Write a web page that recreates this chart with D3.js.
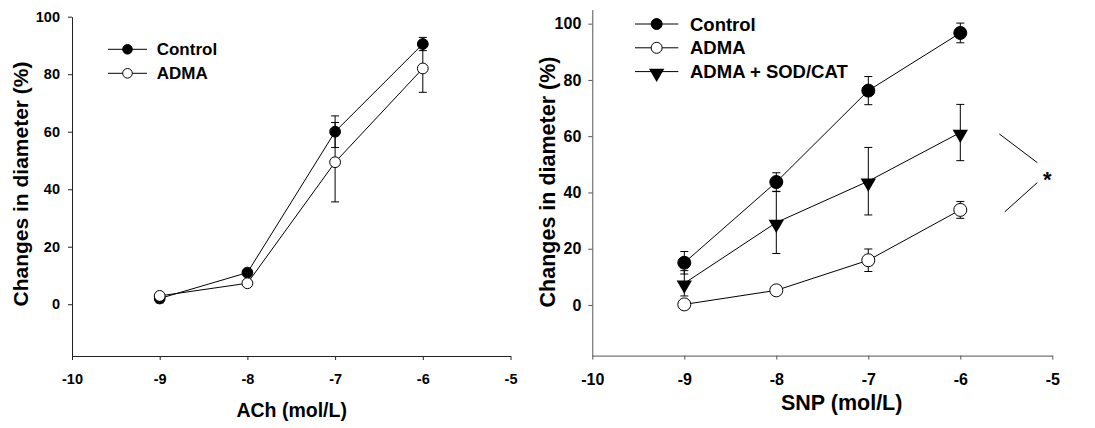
<!DOCTYPE html>
<html><head><meta charset="utf-8">
<script src="https://cdn.jsdelivr.net/npm/d3@7"></script>
<style>body{margin:0;background:#fff;} svg{display:block;font-family:"Liberation Sans",Arial,sans-serif;font-weight:bold;}</style>
</head><body>
<svg id="c" width="1095" height="428"></svg>
<script>
// ---- data ----
const concentrations = [-9, -8, -7, -6];
const xTicks = [-10, -9, -8, -7, -6, -5];
const yTicks = [0, 20, 40, 60, 80, 100];

const achControl = [2.0, 11.0, 60.0, 90.5];
const achControlErr = [1.5, 1.0, 5.5, 2.3];
const achAdma = [2.9, 7.3, 49.4, 82.0];
const achAdmaErr = [1.0, 1.0, 13.8, 8.3];

const snpControl = [15.0, 43.7, 76.2, 96.7];
const snpControlErr = [4.0, 3.3, 5.0, 3.5];
const snpAdma = [0.2, 5.2, 15.9, 33.8];
const snpAdmaErr = [0.5, 1.0, 4.0, 3.0];
const snpSod = [7.7, 29.3, 44.0, 61.3];
const snpSodErr = [4.5, 11.0, 12.0, 10.0];

const seriesNames = ["Control", "ADMA", "ADMA + SOD/CAT"];
const yTitle = "Changes in diameter (%)";
const leftXTitle = "ACh (mol/L)";
const rightXTitle = "SNP (mol/L)";
// significance bracket (data units): two lines and star
const sigLines = [[[-5.576, 60.8], [-5.163, 50.6]], [[-5.517, 33.1], [-5.163, 43.5]]];
const sigStar = [-5.054, 46.2];

const svg = d3.select("#c");
const hyphenFmt = d => String(d);

function panel(cfg) {
  const x = d3.scaleLinear().domain([-10, -5]).range([cfg.x0, cfg.x1]);
  const y = d3.scaleLinear().domain(cfg.yDomain).range([cfg.yBottom, cfg.yTop]);
  const g = svg.append("g");

  const ax = g.append("g").attr("transform", `translate(0,${cfg.yBottom})`)
    .call(d3.axisBottom(x).tickValues(xTicks).tickSize(4).tickPadding(14).tickSizeOuter(0).tickFormat(hyphenFmt));
  const ay = g.append("g").attr("transform", `translate(${cfg.x0},0)`)
    .call(d3.axisLeft(y).tickValues(yTicks).tickSize(4).tickPadding(cfg.yPad).tickSizeOuter(0).tickFormat(hyphenFmt));
  [ax, ay].forEach(a => {
    a.attr("font-size", cfg.tickFont).attr("font-family", '"Liberation Sans",Arial,sans-serif').attr("font-weight", "bold");
    a.selectAll("path,line").attr("stroke", cfg.axisColor).attr("stroke-width", 1);
    a.selectAll("text").attr("fill", "#000");
  });
  ax.selectAll("text").attr("dy", "0.71em");

  g.append("text").attr("transform", `translate(${cfg.yTitleX},${cfg.yTitleY}) rotate(-90)`)
    .attr("text-anchor", "middle").attr("dy", "0.35em").style("font-size", cfg.titleFont + "px").text(yTitle);
  g.append("text").attr("x", cfg.xTitleX).attr("y", cfg.xTitleY).attr("text-anchor", "middle")
    .style("font-size", cfg.xTitleFont + "px").text(cfg.xTitle);

  const line = d3.line().x(d => x(d[0])).y(d => y(d[1]));
  cfg.series.forEach(s => {
    const pts = concentrations.map((c, i) => [c, s.values[i], s.err[i]]);
    g.append("path").datum(pts).attr("d", line).attr("fill", "none").attr("stroke", "#000").attr("stroke-width", 1);
  });
  cfg.series.forEach(s => {
    const pts = concentrations.map((c, i) => [c, s.values[i], s.err[i]]);
    const eb = g.append("g").attr("stroke", "#000").attr("stroke-width", 1);
    pts.forEach(p => {
      const cx = x(p[0]);
      eb.append("line").attr("x1", cx).attr("x2", cx).attr("y1", y(p[1] - p[2])).attr("y2", y(p[1] + p[2]));
      [p[1] - p[2], p[1] + p[2]].forEach(v => eb.append("line").attr("x1", cx - 4).attr("x2", cx + 4).attr("y1", y(v)).attr("y2", y(v)));
    });
  });
  cfg.series.forEach(s => {
    const pts = concentrations.map((c, i) => [c, s.values[i]]);
    pts.forEach(p => drawMarker(g, s.marker, x(p[0]), y(p[1]), cfg.markerR));
  });

  // legend
  cfg.series.forEach((s, i) => {
    const ly = cfg.legY + i * cfg.legStep;
    g.append("line").attr("x1", cfg.legX0).attr("x2", cfg.legX1).attr("y1", ly).attr("y2", ly).attr("stroke", "#000");
    drawMarker(g, s.marker, (cfg.legX0 + cfg.legX1) / 2, ly, s.marker === "tri" ? cfg.markerR : cfg.legR);
    g.append("text").attr("x", cfg.legTextX).attr("y", ly).attr("dy", "0.36em").style("font-size", cfg.legFont + "px").text(s.name);
  });
  return {g, x, y};
}

function drawMarker(g, type, cx, cy, r) {
  if (type === "tri") {
    g.append("path").attr("d", d3.symbol().type(d3.symbolTriangle).size(r * r * 2.4)())
      .attr("transform", `translate(${cx},${cy + r * 0.25}) rotate(180)`).attr("fill", "#000");
  } else {
    g.append("circle").attr("cx", cx).attr("cy", cy).attr("r", r)
      .attr("fill", type === "filled" ? "#000" : "#fff").attr("stroke", "#000").attr("stroke-width", 1);
  }
}

panel({
  x0: 72, x1: 510.5, yDomain: [-18, 100], yBottom: 356, yTop: 16.7, yPad: 8, axisColor: "#222",
  tickFont: 14.5, titleFont: 21, yTitleX: 21, yTitleY: 184, xTitle: leftXTitle, xTitleX: 291.7, xTitleY: 417, xTitleFont: 19.5,
  markerR: 5.4,
  series: [
    {name: seriesNames[0], values: achControl, err: achControlErr, marker: "filled"},
    {name: seriesNames[1], values: achAdma, err: achAdmaErr, marker: "open"}
  ],
  legX0: 108, legX1: 147, legY: 49.3, legStep: 24, legR: 4.8, legTextX: 156.7, legFont: 17
});

const right = panel({
  x0: 592.3, x1: 1052.3, yDomain: [-18, 105], yBottom: 355.6, yTop: 9.6, yPad: 7, axisColor: "#555",
  tickFont: 16, titleFont: 21.5, yTitleX: 547, yTitleY: 182, xTitle: rightXTitle, xTitleX: 841.7, xTitleY: 410, xTitleFont: 21.5,
  markerR: 6.5,
  series: [
    {name: seriesNames[0], values: snpControl, err: snpControlErr, marker: "filled"},
    {name: seriesNames[1], values: snpAdma, err: snpAdmaErr, marker: "open"},
    {name: seriesNames[2], values: snpSod, err: snpSodErr, marker: "tri"}
  ],
  legX0: 635, legX1: 678.3, legY: 24, legStep: 23.8, legR: 5.5, legTextX: 690, legFont: 18.5
});

sigLines.forEach(l => {
  right.g.append("line").attr("x1", right.x(l[0][0])).attr("y1", right.y(l[0][1]))
    .attr("x2", right.x(l[1][0])).attr("y2", right.y(l[1][1])).attr("stroke", "#000").attr("stroke-width", 1);
});
right.g.append("text").attr("x", right.x(sigStar[0])).attr("y", right.y(sigStar[1]) + 12)
  .attr("text-anchor", "middle").style("font-size", "22px").text("*");
</script>
</body></html>
